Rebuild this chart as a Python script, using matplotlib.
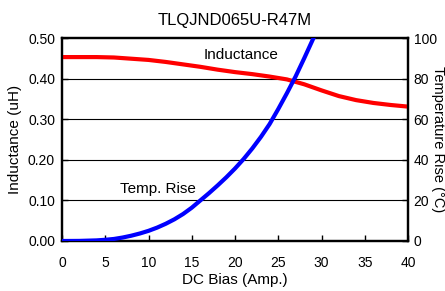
import numpy as np
import matplotlib
matplotlib.use('Agg')
import matplotlib.pyplot as plt

plt.rcParams['font.family'] = ['Liberation Sans', 'DejaVu Sans']

# Inductance vs DC bias
bias_l = [0, 2, 4, 6, 8, 10, 12, 14, 16, 18, 20, 22, 24, 26, 28, 30, 32, 34, 36, 38, 40]
induct = [0.453, 0.453, 0.453, 0.452, 0.449, 0.446, 0.441, 0.435, 0.429, 0.422, 0.416,
          0.411, 0.405, 0.398, 0.386, 0.371, 0.357, 0.347, 0.340, 0.335, 0.331]

# Temperature rise vs DC bias
bias_t = [0, 2, 4, 5, 6, 7, 8, 9, 10, 11, 12, 13, 14, 15, 16, 17, 18, 19, 20,
          21, 22, 23, 24, 25, 26, 27, 28, 29, 29.3]
temp = [0, 0.05, 0.3, 0.6, 1, 1.7, 2.6, 3.7, 5, 6.6, 8.5, 10.7, 13.3, 16.4, 20,
        23.6, 27.4, 31.4, 35.7, 40.4, 45.6, 51.3, 57.6, 65, 72.8, 81, 90, 99.3, 102]

fig = plt.figure(figsize=(4.45, 2.91), dpi=100)
ax = fig.add_axes([62/445, 1-241/291, 346/445, 203/291])
ax2 = ax.twinx()

ax.plot(bias_l, induct, color='#ff0000', lw=3, zorder=3)
ax2.plot(bias_t, temp, color='#0000ff', lw=3, zorder=3)

ax.set_xlim(0, 40)
ax.set_ylim(0, 0.5)
ax2.set_ylim(0, 100)
ax.set_xticks(range(0, 41, 5))
ax.set_yticks(np.arange(0, 0.51, 0.1))
ax.set_yticklabels(['%.2f' % v for v in np.arange(0, 0.51, 0.1)])
ax2.set_yticks(range(0, 101, 20))
for v in [0.1, 0.2, 0.3, 0.4]:
    ax.axhline(v, color='black', lw=0.8, zorder=1)

for a in (ax, ax2):
    a.tick_params(direction='in', length=4, width=1, labelsize=10)
    for s in a.spines.values():
        s.set_linewidth(1.6)
ax.tick_params(axis='x', pad=11)
ax.tick_params(axis='y', pad=5)
ax2.tick_params(axis='y', pad=4)

ax.set_xlabel('DC Bias (Amp.)', fontsize=11, labelpad=2)
ax.set_ylabel('Inductance (uH)', fontsize=11, labelpad=4)
ax2.set_ylabel('Temperature Rise (\u00b0C)', fontsize=10.5, rotation=270, va='center', ha='center')
ax2.yaxis.set_label_coords(1.086, 0.5)
ax.set_title('TLQJND065U-R47M', fontsize=12, pad=9)

ax.text(20.7, 0.458, 'Inductance', fontsize=11, ha='center', va='center')
ax.text(11.1, 0.128, 'Temp. Rise', fontsize=11, ha='center', va='center')

fig.savefig('out.png', dpi=100)
